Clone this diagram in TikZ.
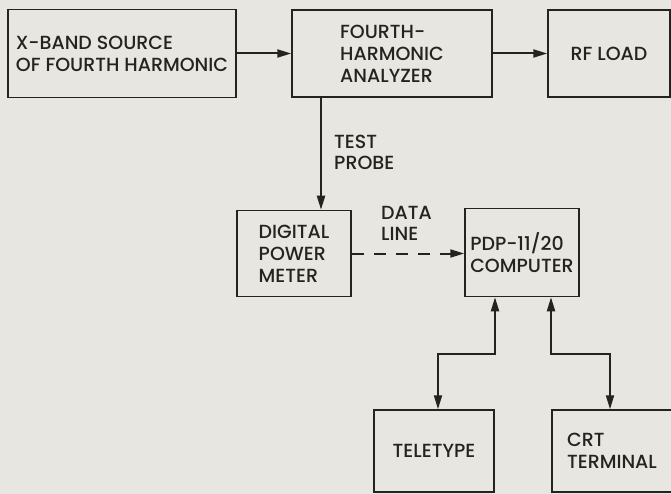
\documentclass[tikz,border=0pt]{standalone}
\usepackage{fontspec}
\setmainfont{Poppins Medium}
\usetikzlibrary{arrows.meta}
\definecolor{InkClr}{RGB}{38,34,32}
\definecolor{PaperClr}{RGB}{231,230,225}

\begin{document}
\begin{tikzpicture}[x=1pt,y=-1pt,
  box/.style={draw=InkClr,line width=1.5pt,align=left,inner sep=0pt,text=InkClr,
    font=\fontsize{19}{22}\selectfont},
  tag/.style={align=left,inner sep=0pt,text=InkClr,font=\fontsize{19}{21}\selectfont},
  link/.style={draw=InkClr,line width=2pt,-{Triangle[length=14pt,width=8pt]}},
  twolink/.style={link,{Triangle[length=14pt,width=8pt]}-{Triangle[length=14pt,width=8pt]}}]
\useasboundingbox (0,0) rectangle (671,494);
\fill[PaperClr] (0,0) rectangle (671,494);
\clip (0,0) rectangle (671,494);

% top row
\node[box,minimum width=228pt,minimum height=88pt] (src) at (122,53.5) {X-BAND SOURCE\\OF FOURTH HARMONIC};
\node[box,minimum width=200pt,minimum height=87pt] (ana) at (392,53.5) {FOURTH-\\HARMONIC\\ANALYZER};
\node[box,minimum width=122pt,minimum height=87pt] (load) at (609,53.5) {RF LOAD};

% middle row
\node[box,minimum width=114pt,minimum height=86pt] (meter) at (294,253.5) {DIGITAL\\POWER\\METER};
\node[box,minimum width=114pt,minimum height=88pt] (pdp) at (522,252.5) {PDP-11/20\\COMPUTER};

% bottom row
\node[box,minimum width=120pt,minimum height=82pt] (tty) at (434,451) {TELETYPE};
\node[box,minimum width=120pt,minimum height=82pt] (crt) at (612,451) {CRT\\TERMINAL};

\draw[link] (src) -- (ana);
\draw[link] (ana) -- (load);

\coordinate (probe) at ([xshift=27pt]meter.north);
\draw[link] (ana.south -| probe) -- (probe);
\node[tag,anchor=west] (probetxt) at (334,152) {TEST\\PROBE};

\draw[link,dash pattern=on 12pt off 10pt] (meter.east) -- (meter.east -| pdp.west);
\node[tag,anchor=west] (datatxt) at (381,223) {DATA\\LINE};

\draw[twolink] ([xshift=-27pt]pdp.south) -- ++(0,57) -| ([xshift=4pt]tty.north);
\draw[twolink] ([xshift=29pt]pdp.south) -- ++(0,57) -| ([xshift=-2pt]crt.north);

\end{tikzpicture}
\end{document}
